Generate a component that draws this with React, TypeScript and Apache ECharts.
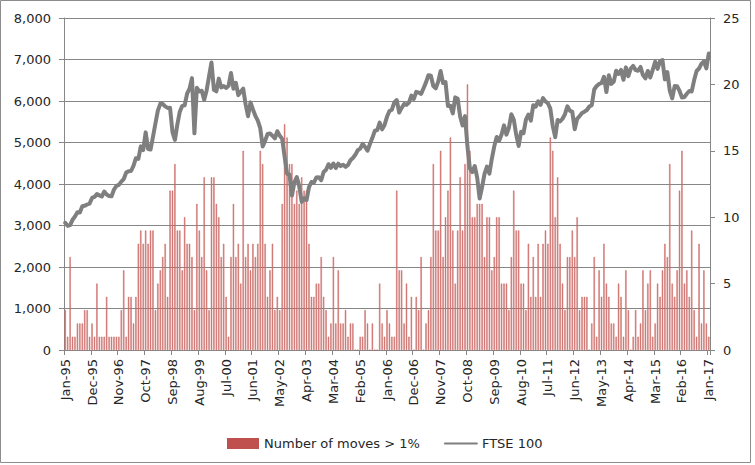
import React, { useEffect, useRef } from 'react';
import * as echarts from 'echarts';

const MONTHS = ['Jan', 'Feb', 'Mar', 'Apr', 'May', 'Jun', 'Jul', 'Aug', 'Sep', 'Oct', 'Nov', 'Dec'];
const categories: string[] = [];
for (let y = 1995; y <= 2017; y++) {
  for (let m = 0; m < 12; m++) {
    if (y === 2017 && m > 0) break;
    categories.push(`${MONTHS[m]}-${String(y % 100).padStart(2, '0')}`);
  }
}

// Number of daily moves > 1% per month (right axis)
const moves1995_1998 = [3, 1, 7, 1, 1, 2, 2, 2, 3, 3, 1, 2, 1, 5, 1, 1, 1, 4, 1, 1, 1, 1, 1, 3, 6, 1, 4, 4, 2, 4, 8, 9, 8, 9, 8, 9, 9, 3, 5, 6, 7, 8, 4, 12];
const moves1998_2002 = [12, 14, 9, 9, 6, 10, 8, 8, 7, 3, 11, 9, 7, 13, 6, 3, 13, 13, 11, 10, 7, 8, 4, 1, 7, 11, 7, 8, 5, 15, 7, 8, 6, 8, 7, 8, 15, 14, 8, 4, 6, 8, 3, 4];
const moves2002_2006 = [3, 11, 17, 16, 14, 14, 11, 12, 11, 13, 12, 12, 8, 4, 4, 5, 5, 7, 4, 3, 1, 2, 7, 2, 6, 2, 2, 3, 1, 2, 2, 0, 0, 1, 1, 3, 2, 0, 2, 0, 0, 5, 2, 1, 3];
const moves2006_2009 = [2, 1, 1, 12, 6, 6, 2, 5, 1, 4, 0, 4, 3, 7, 0, 2, 3, 7, 14, 9, 9, 15, 7, 10, 12, 16, 9, 5, 9, 13, 9, 14, 20, 15, 10, 10, 11, 11, 11, 7, 10, 10, 6, 7, 10, 10];
const moves2009_2013 = [5, 5, 5, 3, 7, 12, 9, 9, 5, 5, 3, 8, 4, 7, 4, 8, 4, 8, 9, 8, 16, 15, 10, 13, 8, 5, 3, 7, 7, 9, 7, 10, 3, 4, 4, 4, 0, 2, 7, 1, 6, 4, 8, 5, 4];
const moves2013_2017 = [2, 2, 1, 5, 4, 1, 6, 3, 0, 1, 3, 1, 2, 6, 3, 5, 6, 1, 2, 5, 4, 6, 8, 7, 14, 5, 4, 6, 12, 15, 5, 6, 4, 9, 3, 1, 8, 2, 6, 2, 1];

// FTSE 100 level (left axis)
const ftse1995_1998 = [3066, 2991, 3009, 3137, 3216, 3319, 3315, 3463, 3477, 3508, 3529, 3664, 3689, 3760, 3727, 3699, 3817, 3747, 3711, 3703, 3867, 3953, 3979, 4058, 4119, 4275, 4309, 4313, 4436, 4622, 4604, 4907, 4818, 5244, 4843, 4831, 5136, 5458, 5767, 5932, 5928, 5870, 5833, 5837, 5249, 5064, 5438, 5743, 5883];
const ftse1999_2002 = [5896, 6175, 6296, 6552, 5220, 6319, 6231, 6246, 6030, 6255, 6597, 6930, 6268, 6232, 6540, 6327, 6359, 6313, 6365, 6673, 6294, 6438, 6142, 6222, 6297, 5918, 5634, 5967, 5796, 5643, 5529, 5345, 4903, 5040, 5204, 5217, 5165, 5101, 5272, 5166, 5086, 4656, 4246, 4227, 3722, 4039, 4169, 3940];
const ftse2003_2006 = [3567, 3656, 3613, 3926, 4048, 4031, 4157, 4162, 4091, 4288, 4343, 4477, 4390, 4492, 4386, 4489, 4431, 4464, 4413, 4459, 4571, 4625, 4703, 4814, 4852, 4968, 4894, 4801, 4964, 5113, 5282, 5297, 5478, 5317, 5423, 5619, 5760, 5792, 5965, 6023, 5723, 5833, 5928, 5907, 5961, 6129, 6049, 6221];
const ftse2007_2010 = [6203, 6172, 6308, 6449, 6621, 6608, 6360, 6303, 6467, 6722, 6432, 6457, 5880, 5884, 5702, 6087, 6053, 5626, 5412, 5637, 4902, 4377, 4288, 4434, 4150, 3650, 3926, 4244, 4418, 4249, 4608, 4909, 5134, 5045, 5191, 5413, 5189, 5355, 5680, 5553, 5188, 4917, 5258, 5225, 5549, 5675, 5528, 5900];
const ftse2011_2014 = [5863, 5994, 5909, 6070, 5990, 5946, 5815, 5395, 5128, 5544, 5505, 5572, 5682, 5872, 5768, 5738, 5321, 5571, 5635, 5711, 5742, 5783, 5867, 5898, 6277, 6361, 6412, 6430, 6583, 6215, 6621, 6413, 6462, 6731, 6651, 6749, 6510, 6810, 6598, 6780, 6845, 6744, 6730, 6820, 6623, 6546, 6723, 6566];
const ftse2015_2016 = [6749, 6946, 6773, 6961, 6984, 6521, 6696, 6248, 6062, 6361, 6356, 6242, 6084, 6097, 6175, 6242, 6231, 6504, 6724, 6782, 6899, 6954, 6784, 7143];

const moves = [...moves1995_1998, ...moves1998_2002, ...moves2002_2006, ...moves2006_2009, ...moves2009_2013, ...moves2013_2017];
const ftse = [...ftse1995_1998, ...ftse1999_2002, ...ftse2003_2006, ...ftse2007_2010, ...ftse2011_2014, ...ftse2015_2016];

const FONT = 'DejaVu Sans';
const AXIS_COLOR = '#878787';
const TEXT_COLOR = '#262626';

export default function App() {
  const ref = useRef<HTMLDivElement>(null);
  useEffect(() => {
    const chart = echarts.init(ref.current!, undefined, { renderer: 'svg' });
    chart.setOption({
      animation: false,
      backgroundColor: '#ffffff',
      textStyle: { fontFamily: FONT },
      grid: { left: 64, right: 45, top: 18, bottom: 115, containLabel: false },
      legend: {
        left: 222,
        top: 432,
        itemWidth: 32,
        itemHeight: 11,
        itemGap: 24,
        textStyle: { fontFamily: FONT, fontSize: 13, color: TEXT_COLOR },
        data: [
          { name: 'Number of moves > 1%', icon: 'rect', itemStyle: { color: '#c0504d', borderWidth: 0 } },
          { name: 'FTSE 100', itemStyle: { opacity: 0 } },
        ],
      },
      xAxis: {
        type: 'category',
        data: categories,
        boundaryGap: true,
        axisLine: { lineStyle: { color: AXIS_COLOR, width: 1 } },
        axisTick: { show: true, interval: 10, length: 5, lineStyle: { color: AXIS_COLOR } },
        axisLabel: { interval: 10, rotate: 90, margin: 9, fontSize: 13, color: TEXT_COLOR, fontFamily: FONT },
      },
      yAxis: [
        {
          type: 'value',
          min: 0,
          max: 8000,
          interval: 1000,
          position: 'left',
          axisLine: { show: true, lineStyle: { color: AXIS_COLOR } },
          axisTick: { show: true, length: 5, lineStyle: { color: AXIS_COLOR } },
          splitLine: { show: true, lineStyle: { color: AXIS_COLOR, width: 1 } },
          axisLabel: {
            margin: 13,
            fontSize: 13,
            color: TEXT_COLOR,
            fontFamily: FONT,
            formatter: (v: number) => v.toLocaleString('en-US'),
          },
        },
        {
          type: 'value',
          min: 0,
          max: 25,
          interval: 5,
          position: 'right',
          axisLine: { show: true, lineStyle: { color: AXIS_COLOR } },
          axisTick: { show: true, length: 5, lineStyle: { color: AXIS_COLOR } },
          splitLine: { show: false },
          axisLabel: { margin: 13, fontSize: 13, color: TEXT_COLOR, fontFamily: FONT },
        },
      ],
      series: [
        {
          name: 'Number of moves > 1%',
          type: 'bar',
          yAxisIndex: 1,
          data: moves,
          barWidth: 1.3,
          itemStyle: { color: '#d98684', borderColor: '#c0504d', borderWidth: 0.4 },
        },
        {
          name: 'FTSE 100',
          type: 'line',
          yAxisIndex: 0,
          data: ftse,
          symbol: 'none',
          z: 3,
          lineStyle: { color: '#7f7f7f', width: 4, join: 'round', cap: 'round' },
          itemStyle: { color: '#7f7f7f' },
        },
      ],
      graphic: [
        {
          type: 'rect',
          silent: true,
          z: -10,
          shape: { x: 0.5, y: 0.5, width: 750, height: 462 },
          style: { fill: 'none', stroke: '#8c8c8c', lineWidth: 1 },
        },
      ],
    });
    return () => chart.dispose();
  }, []);
  return (
    <div
      ref={ref}
      style={{ position: 'absolute', left: 0, top: 0, width: 755, height: 465, background: '#fff' }}
    />
  );
}
